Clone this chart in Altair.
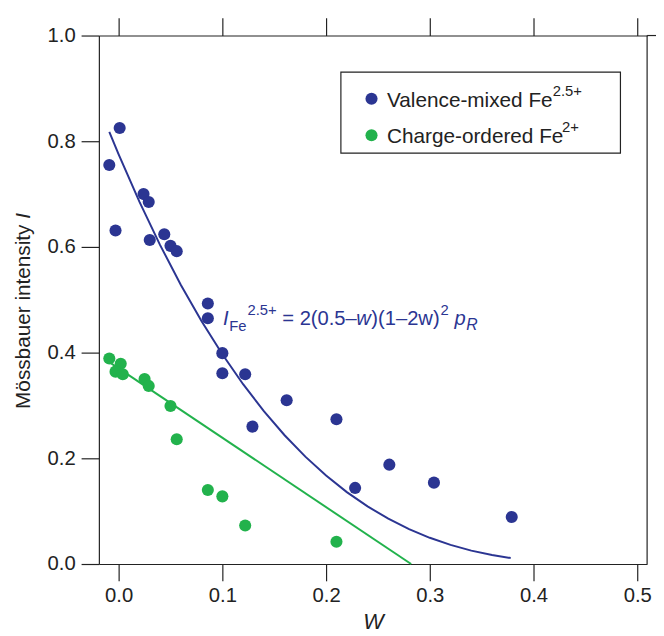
import altair as alt
import pandas as pd

# ---------------- data ----------------
blue_w = [0.001, -0.009, -0.003, 0.024, 0.029, 0.030, 0.044, 0.050, 0.056,
          0.086, 0.086, 0.100, 0.100, 0.122, 0.129, 0.162, 0.210, 0.228,
          0.261, 0.304, 0.379]
blue_I = [0.825, 0.755, 0.631, 0.700, 0.685, 0.613, 0.624, 0.602, 0.592,
          0.493, 0.465, 0.399, 0.361, 0.359, 0.260, 0.310, 0.274, 0.144,
          0.188, 0.154, 0.089]

green_w = [-0.009, 0.002, -0.003, 0.004, 0.025, 0.029, 0.050, 0.056,
           0.086, 0.100, 0.122, 0.210]
green_I = [0.389, 0.379, 0.364, 0.359, 0.350, 0.337, 0.299, 0.236,
           0.140, 0.128, 0.073, 0.042]

# model curve I = 2(0.5-w)(1-2w)^2 pR shown in the chart
p_R = 0.775
curve_w = [-0.009, 0.0, 0.02, 0.04, 0.06, 0.08, 0.10, 0.12, 0.14, 0.16,
           0.18, 0.20, 0.22, 0.24, 0.26, 0.28, 0.30, 0.32, 0.34, 0.36, 0.378]
curve_I = [2 * (0.5 - w) * (1 - 2 * w) ** 2 * p_R for w in curve_w]

line_w = [-0.009, 0.282]
line_I = [0.382, 0.0]

x_ticks = [0.0, 0.1, 0.2, 0.3, 0.4, 0.5]
y_ticks = [0.0, 0.2, 0.4, 0.6, 0.8, 1.0]

BLUE = "#2B3592"
GREEN = "#22B24C"
AXC = "#222222"
FONT = "Liberation Sans"

# Arial / Liberation Sans advance widths (per 1000 em) for placing text runs
_AW = {' ': 278, 'I': 278, 'F': 611, 'e': 556, '2': 556, '.': 278, '5': 556,
       '+': 584, '=': 584, '(': 333, ')': 333, '0': 556, '–': 556, 'w': 722,
       '1': 556, 'p': 556, 'R': 722, 'M': 833, 'ö': 556, 's': 500, 'b': 556,
       'a': 556, 'u': 556, 'r': 333, 'i': 222, 'n': 556, 't': 278, 'y': 500,
       'V': 667, 'l': 222, 'c': 500, '-': 333, 'm': 833, 'x': 500, 'd': 556,
       'C': 722, 'h': 556, 'g': 556, 'o': 556}


def tw(s, size):
    return sum(_AW.get(ch, 556) for ch in s) * size / 1000.0


W, H = 555, 535
xscale = alt.Scale(domain=[-0.01905, 0.50952], nice=False, zero=False)
yscale = alt.Scale(domain=[0.0, 1.0], nice=False, zero=False)

dots = pd.DataFrame({
    "w": blue_w + green_w,
    "I": blue_I + green_I,
    "s": ["Valence-mixed"] * len(blue_w) + ["Charge-ordered"] * len(green_w),
})
curve_df = pd.DataFrame({"w": curve_w, "I": curve_I})
line_df = pd.DataFrame({"w": line_w, "I": line_I})
one = pd.DataFrame({"k": [0]})

color = alt.Color("s:N", scale=alt.Scale(domain=["Valence-mixed", "Charge-ordered"],
                                         range=[BLUE, GREEN]), legend=None)

bottom_axis = alt.Axis(values=x_ticks, format=".1f", title="W", titleFontStyle="italic",
                       titleFontSize=22, titleFont=FONT, titleFontWeight="normal",
                       titleColor=AXC, titlePadding=6,
                       labelFontSize=20.5, labelFont=FONT, labelColor=AXC, labelPadding=5,
                       tickSize=17, tickColor=AXC, tickWidth=1.2, domainColor=AXC,
                       domainWidth=1.2, grid=False, orient="bottom", labelFlush=False)
top_axis = alt.Axis(values=x_ticks, labels=False, title=None, tickSize=18, tickColor=AXC,
                    tickWidth=1.2, domainColor=AXC, domainWidth=1.2, grid=False, orient="top")
left_axis = alt.Axis(values=y_ticks, format=".1f", title=None, labelFontSize=20.5,
                     labelFont=FONT, labelColor=AXC, labelPadding=6, tickSize=18,
                     tickColor=AXC, tickWidth=1.2, domainColor=AXC, domainWidth=1.2,
                     grid=False, orient="left", labelFlush=False)

points = alt.Chart(dots).mark_circle(size=150, opacity=1).encode(
    x=alt.X("w:Q", scale=xscale, axis=bottom_axis),
    y=alt.Y("I:Q", scale=yscale, axis=left_axis),
    color=color,
)

blue_line = alt.Chart(curve_df).mark_line(color=BLUE, strokeWidth=2).encode(
    x=alt.X("w:Q", scale=xscale, axis=top_axis),
    y=alt.Y("I:Q", scale=yscale, axis=None),
)
green_line = alt.Chart(line_df).mark_line(color=GREEN, strokeWidth=2).encode(
    x=alt.X("w:Q", scale=xscale, axis=None),
    y=alt.Y("I:Q", scale=yscale, axis=None),
)

# right frame line and top-line overhang
right_rule = alt.Chart(one).mark_rule(color=AXC, strokeWidth=1.2).encode(
    x=alt.value(W), y=alt.value(0), y2=alt.value(H))
top_over = alt.Chart(one).mark_rule(color=AXC, strokeWidth=1.2).encode(
    x=alt.value(W), x2=alt.value(W + 10), y=alt.value(0))

# legend
box = alt.Chart(one).mark_rect(fill="white", stroke=AXC, strokeWidth=1.2).encode(
    x=alt.value(245), x2=alt.value(528), y=alt.value(37), y2=alt.value(119))
leg_b = alt.Chart(one).mark_circle(size=150, opacity=1, color=BLUE).encode(
    x=alt.value(276), y=alt.value(64))
leg_g = alt.Chart(one).mark_circle(size=150, opacity=1, color=GREEN).encode(
    x=alt.value(276), y=alt.value(101))


def txt(s, x, y, size, col=AXC, style="normal", angle=0):
    return alt.Chart(one).mark_text(
        text=s, font=FONT, fontSize=size, fontStyle=style, color=col,
        align="left", baseline="alphabetic", angle=angle,
    ).encode(x=alt.value(x), y=alt.value(y))


LS, LSS = 21, 15
lx = 291.7
l1 = "Valence-mixed Fe"
l2 = "Charge-ordered Fe"
legend_txt = [
    txt(l1, lx, 72.3, LS),
    txt("2.5+", lx + tw(l1, LS) - 1.5, 61.3, LSS),
    txt(l2, lx, 108.7, LS),
    txt("2+", lx + tw(l2, LS) - 1.5, 98.0, LSS),
]

S, SS = 20.4, 15
x = 125.7
segs = []
segs.append(txt("I", x, 293, S, BLUE, "italic")); x += tw("I", S) + 0.5
segs.append(txt("Fe", x, 298.7, SS, BLUE)); x += tw("Fe", SS) + 1.0
segs.append(txt("2.5+", x, 283, SS, BLUE)); x += tw("2.5+", SS) + tw(" ", S)
segs.append(txt("= 2(0.5–", x, 293, S, BLUE)); x += tw("= 2(0.5–", S) - 0.5
segs.append(txt("w", x, 293, S, BLUE, "italic")); x += tw("w", S) + 0.5
segs.append(txt(")(1–2w)", x, 293, S, BLUE)); x += tw(")(1–2w)", S) + 1.0
segs.append(txt("2", x, 283, SS, BLUE)); x += tw("2", SS) + tw(" ", S)
segs.append(txt("p", x, 293, S, BLUE, "italic")); x += tw("p", S) + 0.5
segs.append(txt("R", x, 298.5, 16, BLUE, "italic"))

YS = 21
y0 = 378
yt = "Mössbauer intensity"
ytitle = [
    txt(yt, -69.5, y0, YS, AXC, "normal", 270),
    txt("I", -69.5, y0 - tw(yt + " ", YS), YS, AXC, "italic", 270),
]

chart = alt.layer(
    green_line, blue_line, points, right_rule, top_over,
    box, leg_b, leg_g, *legend_txt, *segs, *ytitle,
).resolve_axis(x="independent", y="independent").properties(
    width=W, height=H,
    autosize=alt.AutoSizeParams(type="none"),
    padding={"left": 92, "top": 24, "right": 9, "bottom": 69},
    background="white",
).configure_view(stroke=None)

chart.save("out.html", embed_options={"renderer": "svg", "actions": False})
